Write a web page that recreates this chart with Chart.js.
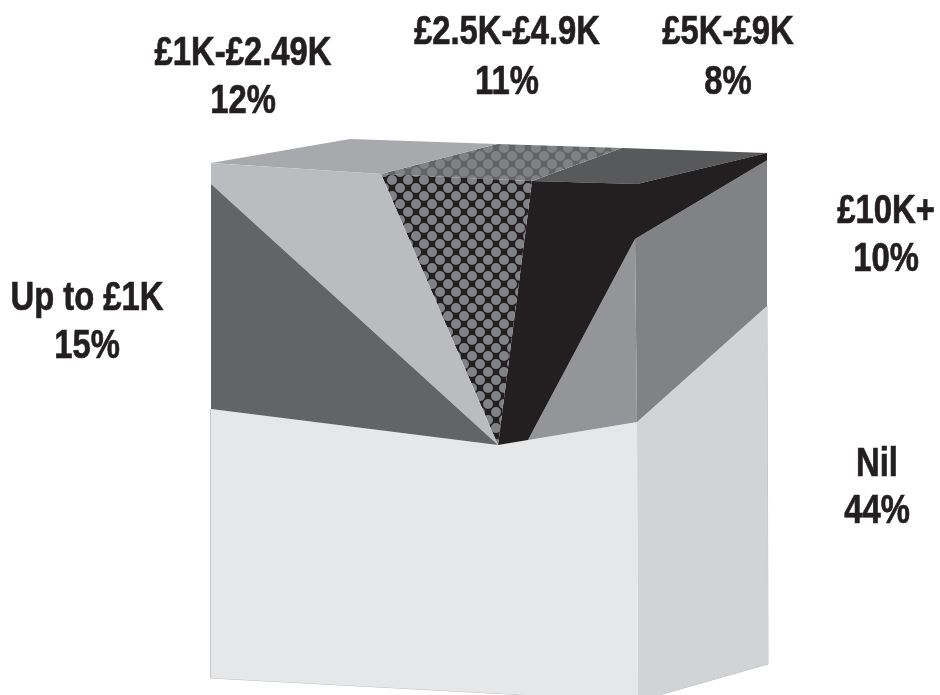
<!DOCTYPE html>
<html>
<head>
<meta charset="utf-8">
<style>
  html, body { margin: 0; padding: 0; background: #fff; }
  canvas { display: block; }
</style>
<script src="https://cdn.jsdelivr.net/npm/chart.js@4"></script>
</head>
<body>
<canvas id="boxPie" width="940" height="695"></canvas>
<script>
// clockwise from the left edge of the box
const categories = ["Up to £1K", "£1K-£2.49K", "£2.5K-£4.9K", "£5K-£9K", "£10K+", "Nil"];
const shares = [15, 12, 11, 8, 10, 44];

// box projection: cumulative share -> position on the rim [share, x, y]
const frontRim = [[0, 211, 409], [16.4, 211, 163], [27, 381, 174], [38, 532, 181], [43, 637, 184], [45.5, 767, 153], [56, 767, 306]];
const backRim = [[16.4, 350, 139], [27, 497, 144], [38, 622, 148], [45.5, 767, 153]];
const hub = { x: 498, y: 445 };
const foot = { x: 528, y: 440 };
const fold = { x: 635, y: 239 };
const corner = { x: 637, y: 422 };
const bottomLeft = { x: 211, y: 678 };
const bottomCorner = { x: 638, y: 701 };
const bottomRight = { x: 768, y: 664 };

const frontColors = ["#636466", "#bbbcc0", null, "#231f20", "#939598", "#e6e7e8"];
const lidColors = [null, "#a7a9ac", null, "#58595b", null, null];
const sideColors = { "£10K+": "#808285", "Nil": "#d1d3d4" };

// x, first line y, second line y
const labelSpots = [[87, 299, 347], [243, 54, 102], [507, 33, 83], [728, 33, 83], [886, 212, 260], [877, 465, 512]];

function dots(base) {
  const tile = document.createElement("canvas");
  tile.width = 16;
  tile.height = 16;
  const c = tile.getContext("2d");
  c.fillStyle = base;
  c.fillRect(0, 0, 16, 16);
  c.fillStyle = "#808285";
  [[8, 4], [8, 20], [0, 12], [16, 12], [0, -4], [16, -4]].forEach(([x, y]) => {
    c.beginPath();
    c.arc(x, y, 5, 0, Math.PI * 2);
    c.fill();
  });
  return c.createPattern(tile, "repeat");
}

function rimAt(stops, s) {
  for (let i = 1; i < stops.length; i++) {
    const [s0, x0, y0] = stops[i - 1];
    const [s1, x1, y1] = stops[i];
    if (s <= s1) {
      const t = (s - s0) / (s1 - s0);
      return { x: x0 + (x1 - x0) * t, y: y0 + (y1 - y0) * t };
    }
  }
  const last = stops[stops.length - 1];
  return { x: last[1], y: last[2] };
}

function rimPath(stops, a, b) {
  const inner = stops.filter((p) => p[0] > a && p[0] < b).map((p) => ({ x: p[1], y: p[2] }));
  return [rimAt(stops, a), ...inner, rimAt(stops, b)];
}

function lidShape(a, b) {
  const from = Math.max(a, backRim[0][0]);
  const to = Math.min(b, backRim[backRim.length - 1][0]);
  return [...rimPath(frontRim, from, to), ...rimPath(backRim, from, to).reverse()];
}

function shape(label, data, color) {
  return {
    label,
    data,
    showLine: true,
    fill: "shape",
    backgroundColor: color,
    borderColor: "rgba(0,0,0,0)",
    borderWidth: 0,
    pointRadius: 0,
    tension: 0,
  };
}

const starts = [];
shares.reduce((sum, v, i) => {
  starts[i] = sum;
  return sum + v;
}, 0);
const ends = starts.map((s, i) => s + shares[i]);

const datasets = [];
categories.forEach((name, i) => {
  const a = starts[i];
  const b = ends[i];
  if (name === "Nil") {
    datasets.push(shape(name, [rimAt(frontRim, 0), hub, corner, bottomCorner, bottomLeft], frontColors[i]));
    datasets.push(shape(name, [corner, rimAt(frontRim, a), bottomRight, bottomCorner], sideColors[name]));
  } else if (name === "£10K+") {
    datasets.push(shape(name, [foot, fold, corner], frontColors[i]));
    datasets.push(shape(name, [fold, rimAt(frontRim, a), rimAt(frontRim, b), corner], sideColors[name]));
  } else if (name === "£5K-£9K") {
    datasets.push(shape(name, [hub, ...rimPath(frontRim, a, b), fold, foot], frontColors[i]));
    datasets.push(shape(name, lidShape(a, b), lidColors[i]));
  } else if (name === "£2.5K-£4.9K") {
    datasets.push(shape(name, [hub, ...rimPath(frontRim, a, b)], dots("#231f20")));
    datasets.push(shape(name, lidShape(a, b), dots("#636466")));
  } else {
    datasets.push(shape(name, [hub, ...rimPath(frontRim, a, b)], frontColors[i]));
    if (lidColors[i]) datasets.push(shape(name, lidShape(a, b), lidColors[i]));
  }
});

// thin grey edge round the sides and the bottom of the box
datasets.push({
  label: "edge",
  data: [rimAt(frontRim, 0), bottomLeft, bottomCorner, bottomRight, rimAt(frontRim, ends[4])],
  showLine: true,
  fill: false,
  borderColor: "#bcbec0",
  borderWidth: 1,
  pointRadius: 0,
});

const sliceLabels = {
  id: "sliceLabels",
  afterDraw(chart) {
    const { ctx, scales } = chart;
    ctx.save();
    ctx.fillStyle = "#231f20";
    ctx.strokeStyle = "#231f20";
    ctx.lineWidth = 0.7;
    ctx.font = "bold 40px 'Liberation Sans', Arial, sans-serif";
    ctx.textAlign = "center";
    ctx.textBaseline = "middle";
    const narrow = 0.82; // no condensed face installed
    categories.forEach((name, i) => {
      const [x, y1, y2] = labelSpots[i];
      ctx.save();
      ctx.translate(scales.x.getPixelForValue(x), 0);
      ctx.scale(narrow, 1);
      ctx.fillText(name, 0, scales.y.getPixelForValue(y1));
      ctx.strokeText(name, 0, scales.y.getPixelForValue(y1));
      ctx.fillText(shares[i] + "%", 0, scales.y.getPixelForValue(y2));
      ctx.strokeText(shares[i] + "%", 0, scales.y.getPixelForValue(y2));
      ctx.restore();
    });
    ctx.restore();
  },
};

new Chart(document.getElementById("boxPie"), {
  type: "scatter",
  data: { datasets },
  options: {
    responsive: false,
    animation: false,
    events: [],
    layout: { padding: 0 },
    plugins: { legend: { display: false }, tooltip: { enabled: false } },
    scales: {
      x: { type: "linear", min: 0, max: 940, display: false },
      y: { type: "linear", min: 0, max: 695, reverse: true, display: false },
    },
  },
  plugins: [sliceLabels],
});
</script>
</body>
</html>
